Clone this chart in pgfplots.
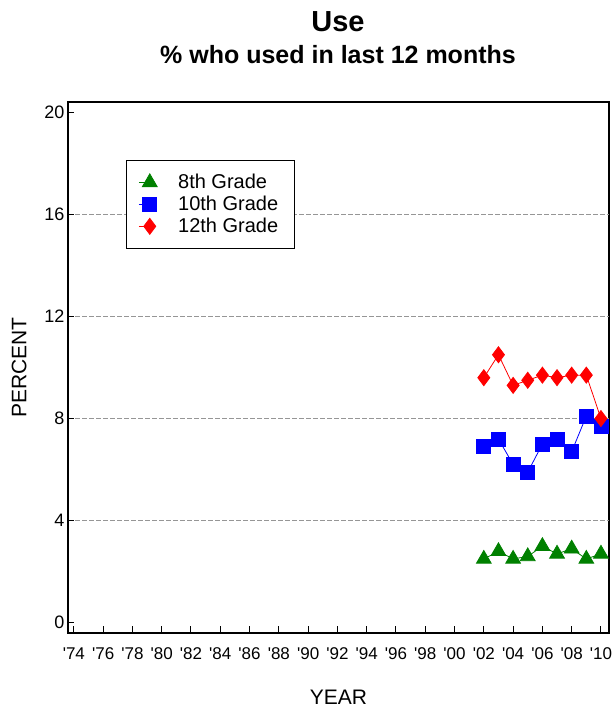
\documentclass[border=0pt]{standalone}
\usepackage{pgfplots}
\pgfplotsset{compat=1.18}
\usepackage{fontspec}
\setmainfont{Liberation Sans}
\definecolor{g8}{RGB}{0,128,0}
\definecolor{b10}{RGB}{0,0,255}
\definecolor{r12}{RGB}{255,0,0}
\definecolor{gridgray}{RGB}{150,150,150}
\begin{document}
\begin{tikzpicture}[x=1pt,y=1pt]
\path[use as bounding box] (0,0) rectangle (611,711);
\begin{axis}[
  at={(68pt,78pt)}, anchor=south west,
  scale only axis, width=541pt, height=531pt,
  xmin=1973.6, xmax=2010.55, ymin=-0.4, ymax=20.4,
  axis line style={line width=1.2pt},
  xtick={1974,1976,...,2010},
  xticklabels={{\textquotesingle74},{\textquotesingle76},{\textquotesingle78},{\textquotesingle80},{\textquotesingle82},{\textquotesingle84},{\textquotesingle86},{\textquotesingle88},{\textquotesingle90},{\textquotesingle92},{\textquotesingle94},{\textquotesingle96},{\textquotesingle98},{\textquotesingle00},{\textquotesingle02},{\textquotesingle04},{\textquotesingle06},{\textquotesingle08},{\textquotesingle10}},
  minor x tick num=1,
  xtick pos=lower, ytick pos=left,
  x tick style={line width=1pt, black},
  minor x tick style={line width=1pt, black},
  major tick length=6.5pt, minor tick length=6.5pt,
  xtick align=inside,
  ytick={0,4,...,20},
  y tick style={line width=1pt, black},
  ytick align=inside,
  extra y ticks={4,8,12,16},
  extra y tick labels={},
  extra y tick style={grid=major, major grid style={gridgray, dashed, line width=0.8pt, dash pattern=on 5pt off 2pt}},
  /pgf/number format/assume math mode=true,
  yticklabel style={font=\fontsize{18}{18}\selectfont},
  xticklabel style={font=\fontsize{17}{17}\selectfont, yshift=-11.5pt, inner xsep=0pt},
  xlabel={YEAR},
  ylabel={PERCENT},
  label style={font=\fontsize{21}{21}\selectfont},
  xlabel style={yshift=-23pt},
  ylabel style={yshift=11pt},
  legend cell align=left,
  legend style={at={(0.107,0.891)}, anchor=north west, draw=black, line width=1pt,
    font=\fontsize{20}{20}\selectfont, inner xsep=12pt, inner ysep=13pt,
    row sep=4pt, nodes={inner xsep=4pt, inner ysep=1pt},
    /tikz/every odd column/.append style={column sep=17pt}},
  legend image code/.code={\draw[mark repeat=2,mark phase=2] plot coordinates {(-11pt,0pt) (0pt,0pt)};},
]
\addplot[g8, line width=0.8pt, mark=triangle*, mark size=8.5pt, mark options={solid}] coordinates {
(2002,2.5) (2003,2.8) (2004,2.5) (2005,2.6) (2006,3.0) (2007,2.7) (2008,2.9) (2009,2.5) (2010,2.7)};
\addlegendentry{8th Grade}
\addplot[b10, line width=0.8pt, mark=square*, mark size=7pt] coordinates {
(2002,6.9) (2003,7.2) (2004,6.2) (2005,5.9) (2006,7.0) (2007,7.2) (2008,6.7) (2009,8.1) (2010,7.7)};
\addlegendentry{10th Grade}
\addplot[r12, line width=0.8pt, mark=diamond*, mark size=8pt] coordinates {
(2002,9.6) (2003,10.5) (2004,9.3) (2005,9.5) (2006,9.7) (2007,9.6) (2008,9.7) (2009,9.7) (2010,8.0)};
\addlegendentry{12th Grade}
\end{axis}
\node[font=\bfseries\fontsize{29}{29}\selectfont] at (338,689) {Use};
\node[font=\bfseries\fontsize{25}{25}\selectfont] at (338,656) {\% who used in last 12 months};
\end{tikzpicture}
\end{document}
